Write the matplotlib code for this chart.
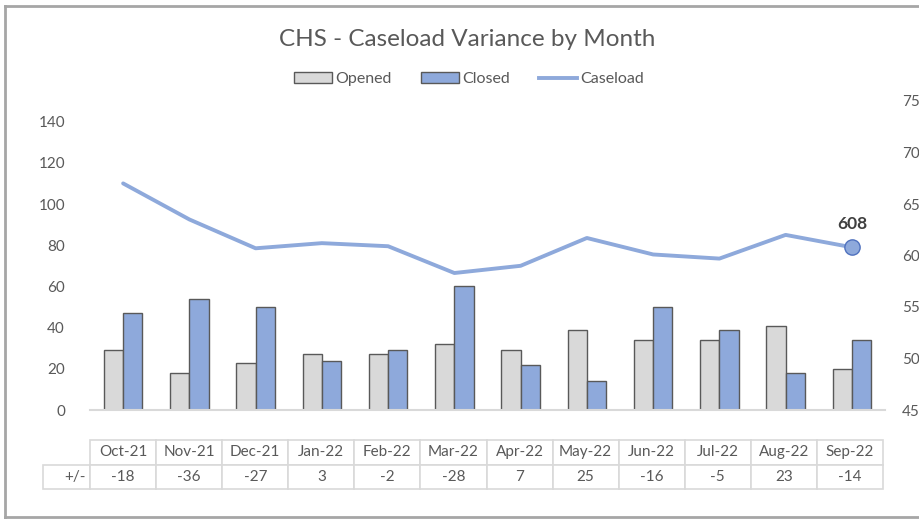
import matplotlib
matplotlib.use('Agg')
import matplotlib.pyplot as plt
import numpy as np
from matplotlib.patches import Patch
from matplotlib.lines import Line2D

plt.rcParams['font.family'] = ['Lato', 'DejaVu Sans']

# %% Data
months = ['Oct-21', 'Nov-21', 'Dec-21', 'Jan-22', 'Feb-22', 'Mar-22',
          'Apr-22', 'May-22', 'Jun-22', 'Jul-22', 'Aug-22', 'Sep-22']
opened = [29, 18, 23, 27, 27, 32, 29, 39, 34, 34, 41, 20]
closed = [47, 54, 50, 24, 29, 60, 22, 14, 50, 39, 18, 34]
caseload = [670, 635, 607, 612, 609, 583, 590, 617, 601, 597, 620, 608]
variance = ['-18', '-36', '-27', '3', '-2', '-28', '7', '25', '-16', '-5', '23', '-14']

text_col = '#595959'
grid_col = '#D9D9D9'
blue = '#8EA9DB'

# %% Plot
fig = plt.figure(figsize=(9.2, 5.19), dpi=100)
ax = fig.add_axes([90 / 920, 1 - 410 / 519, 795 / 920, 309 / 519])
ax2 = ax.twinx()

x = np.arange(len(months))
w = 0.29
ax.bar(x - w / 2, opened, w, color='#D9D9D9', edgecolor='#595959',
       linewidth=1, zorder=2)
ax.bar(x + w / 2, closed, w, color=blue, edgecolor='#595959',
       linewidth=1, zorder=2)
ax.set_xlim(-0.5, len(months) - 0.5)
ax.set_ylim(0, 150)
ax.set_yticks(range(0, 141, 20))

ax2.plot(x, caseload, color=blue, linewidth=2.8, solid_capstyle='round')
ax2.plot(x[-1], caseload[-1], 'o', markersize=11, color=blue,
         markeredgecolor='#4F71BE', markeredgewidth=1)
ax2.annotate(str(caseload[-1]), (x[-1], caseload[-1]),
             xytext=(0, 11), textcoords='offset points', ha='center',
             va='bottom', fontsize=12.5, fontweight='bold', color='#404040')
ax2.set_ylim(450, 750)
ax2.set_yticks(range(450, 751, 50))

for a in (ax, ax2):
    for s in a.spines.values():
        s.set_visible(False)
    a.tick_params(axis='y', length=0, labelsize=11, labelcolor=text_col)
ax.tick_params(axis='y', pad=18)
ax2.tick_params(axis='y', pad=12)
ax.spines['bottom'].set_visible(True)
ax.spines['bottom'].set_color(grid_col)
ax.spines['bottom'].set_linewidth(1.5)
ax.set_xticks(np.arange(-0.5, len(months), 1))
ax.set_xticklabels([])
ax.tick_params(axis='x', length=6, color=grid_col, width=1.2)
ax2.set_xticks([])

# %% Data table
tbl = ax.table(cellText=[['+/-'] + variance], colLabels=[''] + months,
               colWidths=[47] + [66] * 12, cellLoc='center',
               bbox=[-47 / 795, -79 / 309, 840 / 795, 49 / 309])
tbl.auto_set_font_size(False)
tbl.set_fontsize(11)
for (r, c), cell in tbl.get_celld().items():
    cell.set_edgecolor(grid_col)
    cell.set_linewidth(1.2)
    cell.get_text().set_color(text_col)
tbl[(0, 0)].visible_edges = ''
tbl[(1, 0)].get_text().set_ha('right')

# %% Title, legend, border
fig.text(467 / 920, 1 - 40 / 519, 'CHS - Caseload Variance by Month',
         ha='center', va='center', fontsize=17.5, color=text_col)
handles = [Patch(facecolor='#D9D9D9', edgecolor='#595959', linewidth=1),
           Patch(facecolor=blue, edgecolor='#595959', linewidth=1),
           Line2D([], [], color=blue, linewidth=2.8)]
fig.legend(handles, ['Opened', 'Closed', 'Caseload'], ncol=3,
           loc='center', bbox_to_anchor=(469 / 920, 1 - 79 / 519),
           frameon=False, fontsize=11.5, labelcolor=text_col,
           handlelength=2.4, handleheight=0.7, handletextpad=0.2,
           columnspacing=1.8)

fig.add_artist(Line2D([5 / 920, 5 / 920], [0.4 / 519, 1 - 6 / 519],
                      color='#A6A6A6', linewidth=2))
fig.add_artist(Line2D([5 / 920, 1], [1 - 6 / 519, 1 - 6 / 519],
                      color='#A6A6A6', linewidth=2))
fig.add_artist(Line2D([5 / 920, 1], [2 / 519, 2 / 519],
                      color='#A6A6A6', linewidth=2))

fig.savefig('out.png', dpi=100)
